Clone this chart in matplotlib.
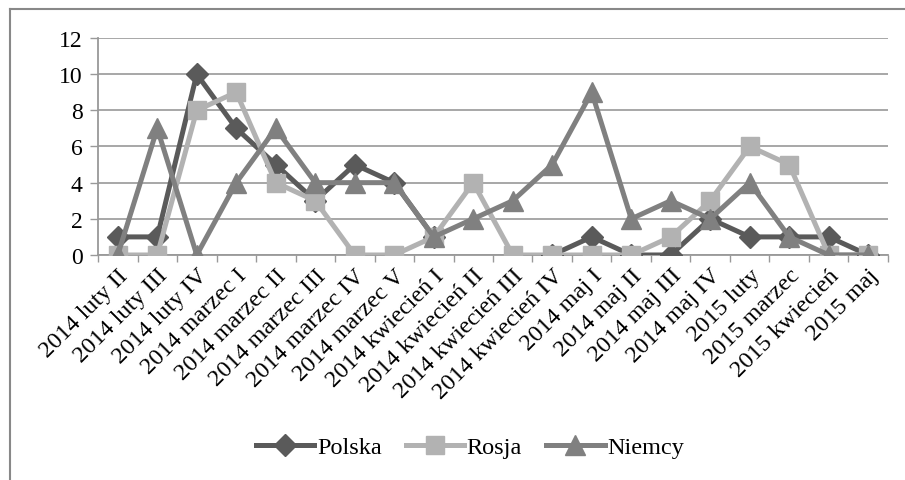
import matplotlib
matplotlib.use('Agg')
import matplotlib.pyplot as plt
import numpy as np
from matplotlib.lines import Line2D

categories = ['2014 luty II', '2014 luty III', '2014 luty IV', '2014 marzec I',
              '2014 marzec II', '2014 marzec III', '2014 marzec IV', '2014 marzec V',
              '2014 kwiecień I', '2014 kwiecień II', '2014 kwiecień III',
              '2014 kwiecień IV', '2014 maj I', '2014 maj II', '2014 maj III',
              '2014 maj IV', '2015 luty', '2015 marzec', '2015 kwiecień', '2015 maj']
polska = [1, 1, 10, 7, 5, 3, 5, 4, 1, np.nan, np.nan, 0, 1, 0, 0, 2, 1, 1, 1, 0]
rosja = [0, 0, 8, 9, 4, 3, 0, 0, 1, 4, 0, 0, 0, 0, 1, 3, 6, 5, 0, 0]
niemcy = [0, 7, 0, 4, 7, 4, 4, 4, 1, 2, 3, 5, 9, 2, 3, 2, 4, 1, 0, 0]

plt.rcParams['font.family'] = ['Liberation Serif', 'DejaVu Serif']

fig = plt.figure(figsize=(9.05, 4.81), dpi=100)
ax = fig.add_axes([0.1083, 0.4678, 0.8729, 0.4511])

x = np.arange(len(categories))
ax.plot(x, polska, color='#5a5a5a', lw=3.6, marker='D', ms=11, label='Polska', zorder=3)
ax.plot(x, rosja, color='#b2b2b2', lw=3.6, marker='s', ms=12.5, label='Rosja', zorder=4)
ax.plot(x, niemcy, color='#808080', lw=3.6, marker='^', ms=14, label='Niemcy', zorder=5)

ax.set_xlim(-0.5, len(categories) - 0.5)
ax.set_ylim(0, 12)
ax.set_yticks(range(0, 13, 2))
ax.set_xticks(x)
ax.set_xticklabels(categories, rotation=45, ha='right', rotation_mode='anchor')
ax.set_xticks(np.arange(-0.5, len(categories), 1), minor=True)
ax.tick_params(axis='x', which='major', length=0, pad=7, labelsize=17.5)
ax.tick_params(axis='x', which='minor', length=5, width=1, color='#999999')
ax.tick_params(axis='y', length=6, width=1, color='#999999', labelsize=17, pad=5)

ax.grid(axis='y', color='#a0a0a0', lw=1.3, zorder=0)
ax.set_axisbelow(True)
for s in ['top', 'right']:
    ax.spines[s].set_visible(False)
for s in ['left', 'bottom']:
    ax.spines[s].set_color('#999999')
    ax.spines[s].set_linewidth(1.3)

ax.legend(loc='center', bbox_to_anchor=(470 / 905, 1 - 448 / 481),
          bbox_transform=fig.transFigure, ncol=3, frameon=False,
          fontsize=17.5, handlelength=2.4, handletextpad=0.1, columnspacing=1.0)

# chart frame (only top and left edges are visible in the crop)
fig.add_artist(Line2D([10 / 905, 1], [1 - 10 / 481] * 2, color='#888888', lw=1.5))
fig.add_artist(Line2D([10 / 905] * 2, [0, 1 - 10 / 481], color='#888888', lw=1.5))

fig.savefig('out.png', dpi=100)
